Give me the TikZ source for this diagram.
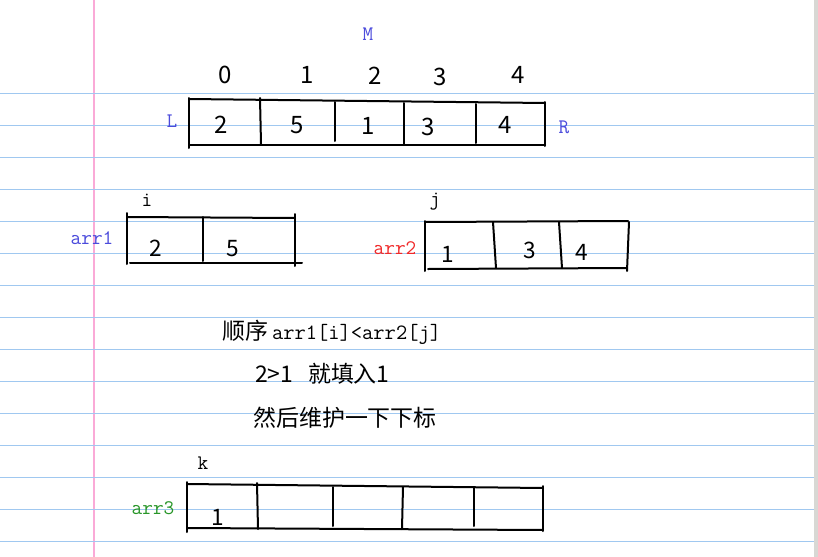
\documentclass[tikz,border=0pt]{standalone}
\usepackage{fontspec}
\newfontfamily\cjk{Noto Sans CJK SC}
\definecolor{ruled}{RGB}{160,200,240}
\definecolor{margin}{RGB}{250,170,215}
\definecolor{edgegray}{RGB}{216,216,212}
\definecolor{lblue}{RGB}{75,75,220}
\definecolor{lred}{RGB}{240,40,40}
\definecolor{lgreen}{RGB}{40,150,40}
\begin{document}
\begin{tikzpicture}[x=0.75pt,y=-0.75pt,
  pen/.style={line width=1.5pt,black,line cap=round},
  lbl/.style={font=\ttfamily\fontsize{15.5}{16}\selectfont,inner sep=0pt},
  hand/.style={font=\cjk\fontsize{18}{18}\selectfont,inner sep=0pt},
  digit/.style={font=\cjk\fontsize{17}{17}\selectfont,inner sep=0pt},
  cjktext/.style={font=\cjk\fontsize{17.2}{18}\selectfont,inner sep=0pt}]
\useasboundingbox (0,0) rectangle (818,557);
\fill[white] (0,0) rectangle (818,557);
% notebook page
\draw[margin,line width=1.5pt] (94,0) -- (94,557);
\foreach \n in {0,...,14} {\draw[ruled,line width=0.75pt] (0,93+32*\n) -- (814,93+32*\n);}
\fill[edgegray] (814,0) rectangle (818,557);

% top array
\node[lbl,text=lblue] (M) at (368,34) {M};
\node[hand] (t0) at (225,75) {0};
\node[hand] (t1) at (307,75) {1};
\node[hand] (t2) at (375,76) {2};
\node[hand] (t3) at (440,77) {3};
\node[hand] (t4) at (518,75) {4};
\node[lbl,text=lblue] (L) at (172,121) {L};
\node[lbl,text=lblue] (R) at (564,127) {R};
\draw[pen] (189,98) -- (189,148);
\draw[pen] (189,99) -- (545,103);
\draw[pen] (189,145) -- (545,145);
\draw[pen] (545,102) -- (545,146);
\draw[pen] (260,98) -- (261,144);
\draw[pen] (335,102) -- (335,141);
\draw[pen] (404,103) -- (404,145);
\draw[pen] (476,104) -- (476,143);
\node[hand] (v0) at (221,125) {2};
\node[hand] (v1) at (297,125) {5};
\node[hand] (v2) at (368,126) {1};
\node[hand] (v3) at (428,127) {3};
\node[hand] (v4) at (505,125) {4};

% arr1
\node[lbl] (i) at (147,200) {i};
\node[lbl,text=lblue] (arr1) at (92,238) {arr1};
\draw[pen] (127,213) -- (127,264);
\draw[pen] (127,217) -- (295,218);
\draw[pen] (295,214) -- (295,266);
\draw[pen] (130,263) -- (302,263);
\draw[pen] (203,217) -- (203,261);
\node[digit] (a10) at (156,248) {2};
\node[digit] (a11) at (233,249) {5};

% arr2
\node[lbl] (j) at (435,202) {j};
\node[lbl,text=lred] (arr2) at (395,248) {arr2};
\draw[pen] (425,221) -- (425,271);
\draw[pen] (425,222) -- (628,221);
\draw[pen] (629,222) -- (627,271);
\draw[pen] (428,269) -- (627,268);
\draw[pen] (493,222) -- (496,268);
\draw[pen] (559,222) -- (562,268);
\node[digit] (a20) at (448,254) {1};
\node[digit] (a21) at (530,250) {3};
\node[digit] (a22) at (582,252) {4};

% explanation
\node[anchor=base west,inner sep=0pt] (rule) at (222,339)
  {{\cjk\fontsize{17.2}{18}\selectfont 顺序}\hspace{3pt}{\ttfamily\fontsize{16.4}{17}\selectfont arr1[i]<arr2[j]}};
\node[cjktext,anchor=base west] (cmp) at (255,382) {2>1\hspace{11pt}就填入1};
\node[cjktext,anchor=base west] (upd) at (253,426) {然后维护一下下标};

% arr3
\node[lbl] (k) at (203,463) {k};
\node[lbl,text=lgreen] (arr3) at (153,508) {arr3};
\draw[pen] (187,482) -- (187,532);
\draw[pen] (187,484) -- (543,488);
\draw[pen] (543,486) -- (543,531);
\draw[pen] (187,528) -- (543,530);
\draw[pen] (257,483) -- (258,529);
\draw[pen] (333,487) -- (333,526);
\draw[pen] (403,487) -- (402,529);
\draw[pen] (474,488) -- (474,526);
\node[digit] (a30) at (218,517) {1};
\end{tikzpicture}
\end{document}
